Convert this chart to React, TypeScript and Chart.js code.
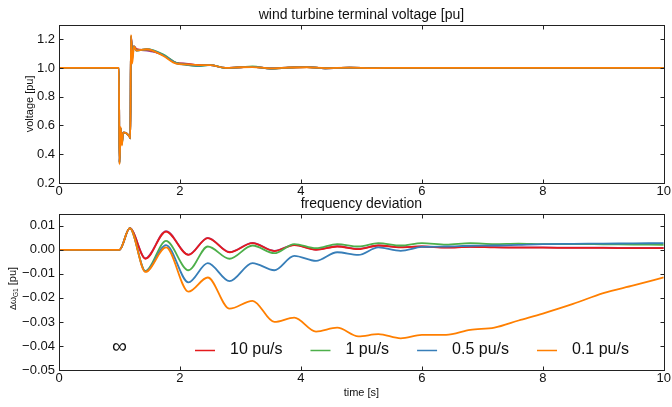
import { useEffect, useRef } from "react";
import { Chart, registerables } from "chart.js";

Chart.register(...registerables);

const FONT = "'Liberation Sans', Arial, Helvetica, sans-serif";

const timeTicks = [0, 2, 4, 6, 8, 10];
const voltTicks = [0.2, 0.4, 0.6, 0.8, 1.0, 1.2];
const freqTicks = [-0.05, -0.04, -0.03, -0.02, -0.01, 0.0, 0.01];

const seriesNames = ["∞", "10 pu/s", "1 pu/s", "0.5 pu/s", "0.1 pu/s"];
const seriesColors = ["#984ea3", "#e41a1c", "#4daf4a", "#377eb8", "#ff7f00"];
const drawOrder = [4, 3, 2, 1, 0]; // lower order is drawn on top

// terminal voltage [pu]
const voltTime = [0, 0.99, 1.0, 1.02, 1.04, 1.06, 1.08, 1.17, 1.18, 1.19, 1.21, 1.24, 1.28, 1.45, 1.72, 1.94, 2.1, 2.3, 2.5, 2.75, 3.0, 3.2, 3.5, 3.8, 4.1, 4.4, 4.8, 5.2, 5.6, 6, 7, 8, 9, 10];
const voltInf = [1, 1, 0.35, 0.58, 0.48, 0.55, 0.55, 0.52, 0.51, 1.22, 1.14, 1.15, 1.13, 1.12, 1.09, 1.035, 1.03, 1.02, 1.02, 1.0, 1.005, 1.007, 0.997, 1.002, 1.006, 0.998, 1.002, 0.999, 1.001, 1, 1, 1, 1, 1];
const volt10 = [1, 1, 0.34, 0.58, 0.48, 0.55, 0.55, 0.52, 0.51, 1.22, 1.13, 1.15, 1.13, 1.125, 1.09, 1.035, 1.028, 1.02, 1.02, 1.0, 1.005, 1.008, 0.996, 1.002, 1.006, 0.998, 1.002, 0.999, 1.001, 1, 1, 1, 1, 1];
const volt1 = [1, 1, 0.34, 0.58, 0.47, 0.55, 0.55, 0.52, 0.51, 1.22, 1.1, 1.15, 1.12, 1.13, 1.095, 1.035, 1.022, 1.012, 1.022, 1.0, 1.004, 1.01, 0.995, 1.002, 1.006, 0.998, 1.002, 0.999, 1.001, 1, 1, 1, 1, 1];
const volt05 = [1, 1, 0.34, 0.58, 0.47, 0.55, 0.55, 0.52, 0.51, 1.22, 1.06, 1.15, 1.12, 1.13, 1.09, 1.032, 1.024, 1.015, 1.02, 1.0, 1.005, 1.008, 0.996, 1.003, 1.007, 0.998, 1.002, 0.999, 1.001, 1, 1, 1, 1, 1];
const volt01 = [1, 1, 0.33, 0.59, 0.46, 0.55, 0.55, 0.52, 0.51, 1.23, 1.03, 1.15, 1.12, 1.13, 1.085, 1.03, 1.025, 1.02, 1.02, 1.0, 1.005, 1.006, 0.997, 1.003, 1.005, 0.999, 1.002, 0.999, 1.001, 1, 1, 1, 1, 1];

// frequency deviation [pu]
const freqTime = [0, 1.0, 1.17, 1.43, 1.77, 2.14, 2.46, 2.82, 3.2, 3.56, 3.89, 4.25, 4.6, 4.95, 5.28, 5.65, 6.0, 6.4, 6.8, 7.2, 7.6, 8.0, 8.5, 9.0, 9.5, 10];
const freqInf = [0, 0, 0.009, -0.0035, 0.0078, -0.002, 0.005, -0.0009, 0.0029, -0.0004, 0.0021, 0.0001, 0.0015, 0.0004, 0.0018, 0.0011, 0.0014, 0.001, 0.0012, 0.0011, 0.001, 0.001, 0.0009, 0.0009, 0.0008, 0.0008];
const freq10 = [0, 0, 0.009, -0.0037, 0.0076, -0.0021, 0.0049, -0.001, 0.0028, -0.0005, 0.002, 0.0, 0.0014, 0.0003, 0.0018, 0.001, 0.0014, 0.0009, 0.0012, 0.001, 0.0009, 0.0009, 0.0008, 0.0008, 0.0007, 0.0007];
const freq1 = [0, 0, 0.009, -0.0088, 0.0037, -0.0085, 0.0014, -0.0037, 0.0018, -0.0014, 0.0024, 0.0007, 0.0024, 0.0014, 0.0028, 0.0018, 0.0028, 0.0022, 0.0028, 0.0024, 0.0026, 0.0024, 0.0024, 0.0023, 0.0022, 0.0021];
const freq05 = [0, 0, 0.009, -0.009, 0.002, -0.0135, -0.0055, -0.013, -0.0055, -0.0085, -0.0025, -0.0046, -0.001, -0.0021, 0.001, -0.0004, 0.0012, 0.0014, 0.0017, 0.0018, 0.0021, 0.0024, 0.0025, 0.0026, 0.0027, 0.0028];
const freq01 = [0, 0, 0.009, -0.0092, 0.001, -0.0174, -0.0115, -0.0245, -0.0212, -0.03, -0.0282, -0.034, -0.0324, -0.036, -0.0351, -0.0368, -0.0354, -0.0354, -0.0333, -0.0324, -0.0294, -0.0265, -0.0225, -0.018, -0.0148, -0.0115];

const voltSeries = [voltInf, volt10, volt1, volt05, volt01];
const freqSeries = [freqInf, freq10, freq1, freq05, freq01];

const minus = (s: string) => s.replace("-", "\u2212");

// box round the plot area with inward ticks on all four sides
const frameTicks = {
  id: "frameTicks",
  afterDraw(chart: any) {
    const { ctx, chartArea: a, scales } = chart;
    const len = 4;
    ctx.save();
    ctx.strokeStyle = "#222";
    ctx.lineWidth = 1;
    const L = Math.round(a.left) + 0.5, R = Math.round(a.right) + 0.5;
    const T = Math.round(a.top) + 0.5, B = Math.round(a.bottom) + 0.5;
    ctx.strokeRect(L, T, R - L, B - T);
    ctx.beginPath();
    scales.x.ticks.forEach((t: any) => {
      const px = Math.round(scales.x.getPixelForValue(t.value)) + 0.5;
      ctx.moveTo(px, B); ctx.lineTo(px, B - len);
      ctx.moveTo(px, T); ctx.lineTo(px, T + len);
    });
    scales.y.ticks.forEach((t: any) => {
      const py = Math.round(scales.y.getPixelForValue(t.value)) + 0.5;
      ctx.moveTo(L, py); ctx.lineTo(L + len, py);
      ctx.moveTo(R, py); ctx.lineTo(R - len, py);
    });
    ctx.stroke();
    ctx.restore();
  },
};

// rotated y label with subscript and the in-plot legend
const freqDecor = {
  id: "freqDecor",
  afterDraw(chart: any) {
    const { ctx } = chart;
    ctx.save();
    ctx.fillStyle = "#111";
    ctx.textBaseline = "alphabetic";
    ctx.translate(16, 115);
    ctx.rotate(-Math.PI / 2);
    let x = 0;
    ctx.font = `9px ${FONT}`;
    ctx.fillText("Δω", x, 0);
    x += ctx.measureText("Δω").width;
    ctx.font = `6.5px ${FONT}`;
    ctx.fillText("G1", x, 2);
    x += ctx.measureText("G1").width + 3;
    ctx.font = `11px ${FONT}`;
    ctx.fillText("[pu]", x, 0);
    ctx.restore();

    ctx.save();
    ctx.textBaseline = "alphabetic";
    ctx.fillStyle = "#111";
    const baseY = 159;
    const lineY = 155.5;
    ctx.font = `21px ${FONT}`;
    ctx.fillText(seriesNames[0], 112, baseY - 1);
    ctx.font = `16px ${FONT}`;
    let lx = 195;
    for (let i = 1; i < seriesNames.length; i++) {
      ctx.strokeStyle = seriesColors[i];
      ctx.lineWidth = 1.5;
      ctx.beginPath();
      ctx.moveTo(lx, lineY);
      ctx.lineTo(lx + 20, lineY);
      ctx.stroke();
      ctx.fillText(seriesNames[i], lx + 35, baseY);
      lx += 35 + ctx.measureText(seriesNames[i]).width + 28;
    }
    ctx.restore();
  },
};

function makeDatasets(time: number[], series: number[][]) {
  return series.map((vals, i) => ({
    label: seriesNames[i],
    data: time.map((t, k) => ({ x: t, y: vals[k] })),
    borderColor: seriesColors[i],
    borderWidth: 1.8,
    pointRadius: 0,
    fill: false,
    cubicInterpolationMode: "monotone" as const,
    order: drawOrder[i],
  }));
}

const tickFont = { family: FONT, size: 13 };

function xScale(height: number, withTitle: boolean) {
  return {
    type: "linear" as const,
    min: 0,
    max: 10,
    afterBuildTicks: (s: any) => { s.ticks = timeTicks.map((v) => ({ value: v })); },
    afterFit: (s: any) => { s.height = height; },
    grid: { display: false, drawTicks: false },
    border: { display: false },
    ticks: { font: tickFont, color: "#111", padding: 1, maxRotation: 0, autoSkip: false, callback: (v: any) => String(v) },
    title: {
      display: withTitle,
      text: "time [s]",
      color: "#111",
      font: { family: FONT, size: 11 },
      padding: { top: 0, bottom: 7 },
    },
  };
}

function voltConfig(): any {
  return {
    type: "line",
    data: { datasets: makeDatasets(voltTime, voltSeries) },
    options: {
      animation: false,
      responsive: true,
      maintainAspectRatio: false,
      layout: { padding: { left: 0, right: 8, top: 0, bottom: 0 } },
      plugins: {
        legend: { display: false },
        tooltip: { enabled: false },
        title: {
          display: true,
          fullSize: false,
          text: "wind turbine terminal voltage [pu]",
          color: "#111",
          font: { family: FONT, size: 14, weight: "normal" },
          padding: { top: 7, bottom: 1 },
        },
      },
      scales: {
        x: xScale(12, false),
        y: {
          type: "linear",
          min: 0.2,
          max: 1.3,
          afterBuildTicks: (s: any) => { s.ticks = voltTicks.map((v) => ({ value: v })); },
          afterFit: (s: any) => { s.width = 59; },
          grid: { display: false, drawTicks: false },
          border: { display: false },
          ticks: { font: tickFont, color: "#111", padding: 4, autoSkip: false, callback: (v: any) => Number(v).toFixed(1) },
          title: {
            display: true,
            text: "voltage [pu]",
            color: "#111",
            font: { family: FONT, size: 11 },
            padding: { top: 23, bottom: 0 },
          },
        },
      },
    },
    plugins: [frameTicks],
  };
}

function freqConfig(): any {
  return {
    type: "line",
    data: { datasets: makeDatasets(freqTime, freqSeries) },
    options: {
      animation: false,
      responsive: true,
      maintainAspectRatio: false,
      layout: { padding: { left: 0, right: 8, top: 0, bottom: 0 } },
      plugins: {
        legend: { display: false },
        tooltip: { enabled: false },
        title: {
          display: true,
          fullSize: false,
          text: "frequency deviation",
          color: "#111",
          font: { family: FONT, size: 14, weight: "normal" },
          padding: { top: 1, bottom: 1 },
        },
      },
      scales: {
        x: xScale(37, true),
        y: {
          type: "linear",
          min: -0.05,
          max: 0.015,
          afterBuildTicks: (s: any) => { s.ticks = freqTicks.map((v) => ({ value: v })); },
          afterFit: (s: any) => { s.width = 59; },
          grid: { display: false, drawTicks: false },
          border: { display: false },
          ticks: {
            font: tickFont,
            color: "#111",
            padding: 4,
            autoSkip: false,
            callback: (v: any) => {
              const n = Math.abs(Number(v)) < 1e-9 ? 0 : Number(v);
              return minus(n.toFixed(2));
            },
          },
        },
      },
    },
    plugins: [frameTicks, freqDecor],
  };
}

function Panel({ build, height }: { build: () => any; height: number }) {
  const canvasRef = useRef<HTMLCanvasElement>(null);

  useEffect(() => {
    if (!canvasRef.current) return;
    const chart = new Chart(canvasRef.current, build());
    return () => {
      chart.destroy();
    };
  }, [build]);

  return (
    <div style={{ position: "relative", width: 672, height }}>
      <canvas ref={canvasRef} />
    </div>
  );
}

export default function App() {
  return (
    <div style={{ position: "absolute", left: 0, top: 0, width: 672, height: 407, background: "#fff" }}>
      <Panel build={voltConfig} height={195} />
      <Panel build={freqConfig} height={212} />
    </div>
  );
}
